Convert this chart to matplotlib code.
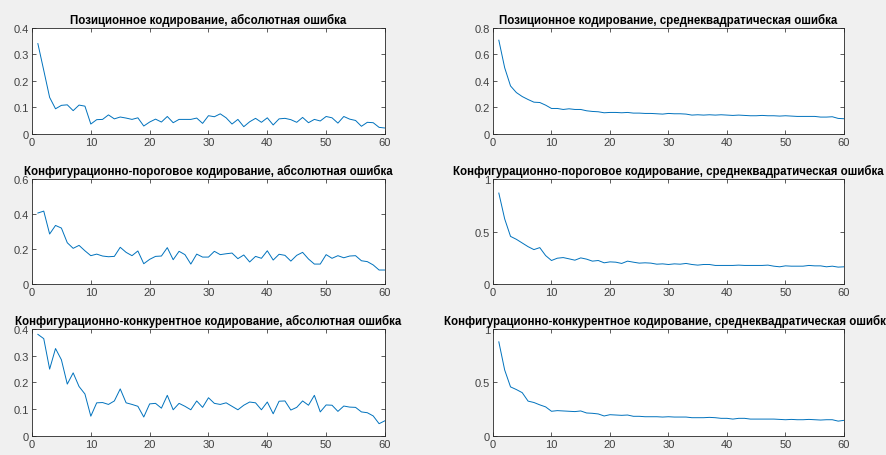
import numpy as np
import matplotlib.pyplot as plt

plt.rcParams['font.family'] = ['Liberation Sans', 'DejaVu Sans']

epochs = np.arange(1, 61)

pos_abs = [0.341, 0.24, 0.138, 0.095, 0.108, 0.11, 0.088, 0.109, 0.105, 0.0375,
           0.054, 0.055, 0.072, 0.057, 0.064, 0.06, 0.055, 0.061, 0.03, 0.045,
           0.056, 0.045, 0.066, 0.0425, 0.055, 0.055, 0.055, 0.06, 0.04, 0.069,
           0.065, 0.076, 0.061, 0.0375, 0.055, 0.0275, 0.046, 0.059, 0.044, 0.061,
           0.034, 0.057, 0.059, 0.054, 0.044, 0.0625, 0.0425, 0.055, 0.049, 0.066,
           0.061, 0.041, 0.066, 0.056, 0.051, 0.029, 0.044, 0.0425, 0.025, 0.0225]

pos_rms = [0.7075, 0.50, 0.3625, 0.3125, 0.2825, 0.26, 0.24, 0.2375, 0.2175, 0.1925,
           0.1925, 0.185, 0.19, 0.185, 0.185, 0.175, 0.17, 0.1675, 0.16, 0.1625,
           0.1625, 0.16, 0.1625, 0.1575, 0.1575, 0.155, 0.155, 0.1525, 0.15, 0.155,
           0.1525, 0.1525, 0.15, 0.1425, 0.145, 0.1425, 0.145, 0.1425, 0.145, 0.1425,
           0.14, 0.1425, 0.14, 0.1375, 0.1375, 0.14, 0.1375, 0.1375, 0.135, 0.1375,
           0.135, 0.1325, 0.1325, 0.1325, 0.1325, 0.1275, 0.1275, 0.13, 0.1175, 0.115]

thr_abs = [0.406, 0.417, 0.286, 0.335, 0.32, 0.236, 0.204, 0.221, 0.19, 0.162,
           0.171, 0.16, 0.156, 0.158, 0.21, 0.181, 0.162, 0.189, 0.116, 0.141,
           0.158, 0.16, 0.208, 0.139, 0.187, 0.168, 0.114, 0.171, 0.154, 0.154,
           0.187, 0.168, 0.173, 0.177, 0.145, 0.166, 0.126, 0.158, 0.147, 0.19,
           0.137, 0.17, 0.164, 0.131, 0.164, 0.181, 0.143, 0.114, 0.114, 0.168,
           0.147, 0.162, 0.15, 0.16, 0.162, 0.133, 0.128, 0.109, 0.08, 0.08]

thr_rms = [0.867, 0.621, 0.454, 0.426, 0.391, 0.356, 0.328, 0.347, 0.271, 0.224,
           0.246, 0.252, 0.24, 0.227, 0.249, 0.237, 0.218, 0.224, 0.202, 0.211,
           0.208, 0.196, 0.218, 0.208, 0.199, 0.202, 0.199, 0.189, 0.192, 0.186,
           0.192, 0.189, 0.196, 0.186, 0.18, 0.186, 0.186, 0.177, 0.177, 0.177,
           0.177, 0.18, 0.177, 0.177, 0.177, 0.177, 0.18, 0.17, 0.164, 0.173,
           0.17, 0.17, 0.17, 0.177, 0.173, 0.173, 0.164, 0.17, 0.161, 0.164]

comp_abs = [0.38, 0.364, 0.25, 0.327, 0.285, 0.194, 0.236, 0.185, 0.157, 0.074,
            0.124, 0.125, 0.118, 0.131, 0.176, 0.124, 0.118, 0.111, 0.071, 0.12,
            0.122, 0.104, 0.152, 0.098, 0.122, 0.111, 0.098, 0.131, 0.107, 0.143,
            0.122, 0.118, 0.124, 0.111, 0.098, 0.115, 0.127, 0.124, 0.098, 0.127,
            0.083, 0.13, 0.131, 0.097, 0.107, 0.131, 0.115, 0.152, 0.09, 0.116,
            0.115, 0.092, 0.112, 0.108, 0.107, 0.09, 0.087, 0.075, 0.046, 0.057]

comp_rms = [0.88, 0.617, 0.459, 0.434, 0.405, 0.326, 0.313, 0.291, 0.272, 0.231,
            0.237, 0.234, 0.231, 0.228, 0.234, 0.215, 0.212, 0.206, 0.187, 0.199,
            0.196, 0.193, 0.196, 0.184, 0.184, 0.18, 0.18, 0.18, 0.177, 0.18,
            0.177, 0.177, 0.177, 0.171, 0.171, 0.171, 0.174, 0.171, 0.165, 0.165,
            0.158, 0.165, 0.165, 0.158, 0.158, 0.158, 0.158, 0.158, 0.155, 0.152,
            0.155, 0.152, 0.152, 0.155, 0.152, 0.149, 0.152, 0.152, 0.139, 0.146]

titles = ['Позиционное кодирование, абсолютная ошибка',
          'Позиционное кодирование, среднеквадратическая ошибка',
          'Конфигурационно-пороговое кодирование, абсолютная ошибка',
          'Конфигурационно-пороговое кодирование, среднеквадратическая ошибка',
          'Конфигурационно-конкурентное кодирование, абсолютная ошибка',
          'Конфигурационно-конкурентное кодирование, среднеквадратическая ошибка']
series = [pos_abs, pos_rms, thr_abs, thr_rms, comp_abs, comp_rms]
ylims = [0.4, 0.8, 0.6, 1, 0.4, 1]
yticks = [[0, 0.1, 0.2, 0.3, 0.4], [0, 0.2, 0.4, 0.6, 0.8], [0, 0.2, 0.4, 0.6],
          [0, 0.5, 1], [0, 0.1, 0.2, 0.3, 0.4], [0, 0.5, 1]]

fig = plt.figure(figsize=(8.86, 4.56), dpi=100, facecolor='#f0f0f0')

lefts = [0.0361, 0.5564]
widths = [0.3984, 0.3962]
bottoms = [0.704, 0.375, 0.0417]
heights = [0.2325, 0.230, 0.2346]

for k in range(6):
    r, c = divmod(k, 2)
    ax = fig.add_axes([lefts[c], bottoms[r], widths[c], heights[r]])
    ax.plot(epochs, series[k], color='#0072BD', linewidth=0.7)
    ax.set_xlim(0, 60)
    ax.set_ylim(0, ylims[k])
    ax.set_xticks([0, 10, 20, 30, 40, 50, 60])
    ax.set_yticks(yticks[k])
    ax.set_yticklabels([('%g' % v) for v in yticks[k]])
    ax.tick_params(direction='in', top=True, right=True, length=3, width=0.6,
                   labelsize=8, colors='#404040', pad=2)
    for s in ax.spines.values():
        s.set_color('#262626')
        s.set_linewidth(0.6)
    ax.set_title(titles[k], fontsize=8.3, fontweight='bold', pad=3.5)

fig.savefig('out.png', dpi=100, facecolor=fig.get_facecolor())
